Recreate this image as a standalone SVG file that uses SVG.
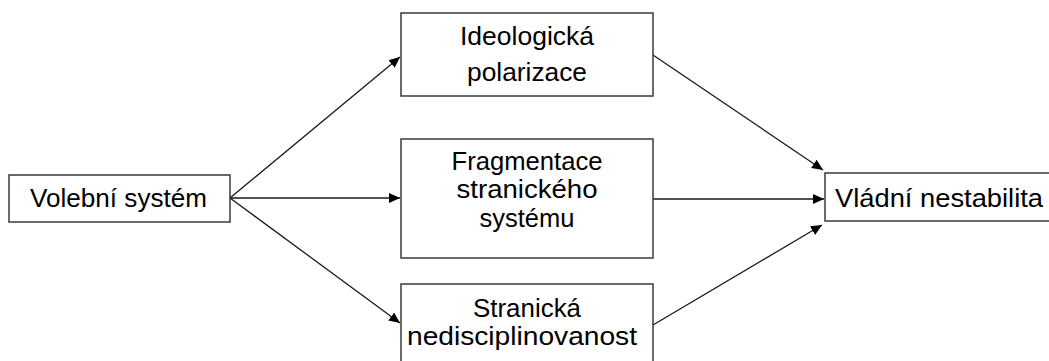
<svg xmlns="http://www.w3.org/2000/svg" width="1049" height="361" viewBox="0 0 1049 361">
  <style>
    .box { fill: #ffffff; stroke: #3a3a3a; stroke-width: 1.5; }
    .lbl { font-family: "Liberation Sans", Arial, sans-serif; font-size: 25px; fill: #000000; text-anchor: middle; }
    .edge { stroke: #1a1a1a; stroke-width: 1.3; fill: none; marker-end: url(#arr); }
  </style>
  <defs>
    <marker id="arr" markerUnits="userSpaceOnUse" markerWidth="12" markerHeight="10" refX="11" refY="5" orient="auto">
      <path d="M0,0 L11,5 L0,10 z" fill="#000000"/>
    </marker>
  </defs>
  <rect width="1049" height="361" fill="#ffffff"/>
  <g id="connectors">
    <line class="edge" x1="230" y1="198" x2="400" y2="57"/>
    <line class="edge" x1="230" y1="198" x2="400" y2="198"/>
    <line class="edge" x1="230" y1="198" x2="400" y2="323"/>
    <line class="edge" x1="653" y1="55" x2="823" y2="170"/>
    <line class="edge" x1="653" y1="199" x2="824" y2="199"/>
    <line class="edge" x1="653" y1="325" x2="822" y2="225"/>
  </g>
  <g id="volebni-system">
    <rect class="box" x="9" y="175" width="221" height="47"/>
    <text class="lbl" x="118.5" y="207" textLength="177" lengthAdjust="spacingAndGlyphs">Volební systém</text>
  </g>
  <g id="ideologicka-polarizace">
    <rect class="box" x="401" y="13" width="252" height="83"/>
    <text class="lbl" x="527" y="45" textLength="134" lengthAdjust="spacingAndGlyphs">Ideologická</text>
    <text class="lbl" x="527" y="81" textLength="120" lengthAdjust="spacingAndGlyphs">polarizace</text>
  </g>
  <g id="fragmentace">
    <rect class="box" x="401" y="139" width="252" height="119"/>
    <text class="lbl" x="527" y="170" textLength="151" lengthAdjust="spacingAndGlyphs">Fragmentace</text>
    <text class="lbl" x="527" y="198" textLength="141" lengthAdjust="spacingAndGlyphs">stranického</text>
    <text class="lbl" x="527" y="227" textLength="95" lengthAdjust="spacingAndGlyphs">systému</text>
  </g>
  <g id="stranicka-nedisciplinovanost">
    <rect class="box" x="401" y="284" width="252" height="90"/>
    <text class="lbl" x="527" y="317" textLength="108" lengthAdjust="spacingAndGlyphs">Stranická</text>
    <text class="lbl" x="522" y="345" textLength="230" lengthAdjust="spacingAndGlyphs">nedisciplinovanost</text>
  </g>
  <g id="vladni-nestabilita">
    <rect class="box" x="825" y="173" width="240" height="48"/>
    <text class="lbl" x="939" y="207" textLength="208" lengthAdjust="spacingAndGlyphs">Vládní nestabilita</text>
  </g>
</svg>
